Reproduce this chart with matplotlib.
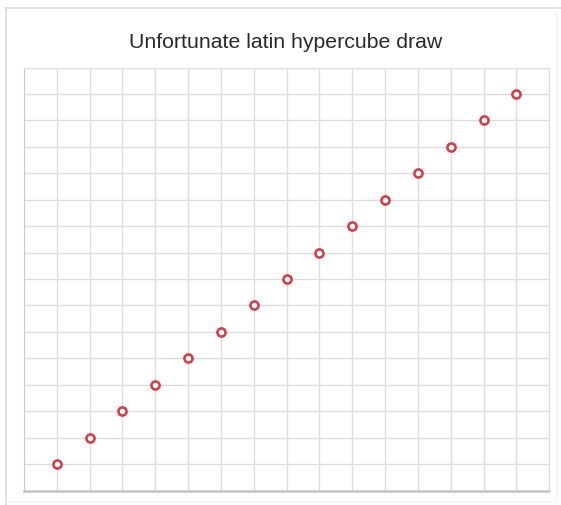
import numpy as np
import matplotlib
matplotlib.use("Agg")
from matplotlib import pyplot as plt
from matplotlib.lines import Line2D

# Sample points of the draw (all on the diagonal)
x_vals = [1, 2, 3, 4, 5, 6, 7, 8, 9, 10, 11, 12, 13, 14, 15]
y_vals = [1, 2, 3, 4, 5, 6, 7, 8, 9, 10, 11, 12, 13, 14, 15]
grid_ticks = list(range(0, 17))
title = "Unfortunate latin hypercube draw"

plt.rcParams['font.family'] = ['Liberation Sans', 'DejaVu Sans']

W, H = 561, 505
fig = plt.figure(figsize=(W / 100, H / 100), dpi=100)

# outer panel frame (left/top clearly visible, right/bottom faint)
fl, ft, fr, fb = 6 / W, 1 - 8 / H, 556 / W, 1 - 501 / H
fig.lines.append(Line2D([fl, fl], [0.0, ft], transform=fig.transFigure,
                        color="#d9d9d9", linewidth=1.2))
fig.lines.append(Line2D([fl, 1.0], [ft, ft], transform=fig.transFigure,
                        color="#d9d9d9", linewidth=1.2))
fig.lines.append(Line2D([fr, fr], [fb, ft], transform=fig.transFigure,
                        color="#f5f5f5", linewidth=1.0))
fig.lines.append(Line2D([fl, fr], [fb, fb], transform=fig.transFigure,
                        color="#f5f5f5", linewidth=1.0))

fig.text(285.5 / W, 1 - 47.5 / H, title, ha="center", va="baseline",
         fontsize=15.3, color="#2a2a2a")

# plot area
left, right, top, bottom = 24, 549.3, 67.5, 490.5
ax = fig.add_axes([left / W, 1 - bottom / H, (right - left) / W, (bottom - top) / H])
ax.scatter(x_vals, y_vals, s=34, facecolors="white", edgecolors="#d43f4a",
           linewidths=1.9, zorder=3)

ax.set_xlim(0, 16)
ax.set_ylim(0, 16)
ax.set_xticks(grid_ticks)
ax.set_yticks(grid_ticks)
ax.tick_params(length=0, labelbottom=False, labelleft=False)
ax.grid(True, color="#dddddd", linewidth=1.0)
ax.set_axisbelow(True)

for side in ["top", "right"]:
    ax.spines[side].set_color("#dddddd")
ax.spines["left"].set_color("#cccccc")
ax.spines["bottom"].set_color("#c4c4c4")
ax.spines["bottom"].set_linewidth(1.8)

plt.savefig("out.png", dpi=100)
